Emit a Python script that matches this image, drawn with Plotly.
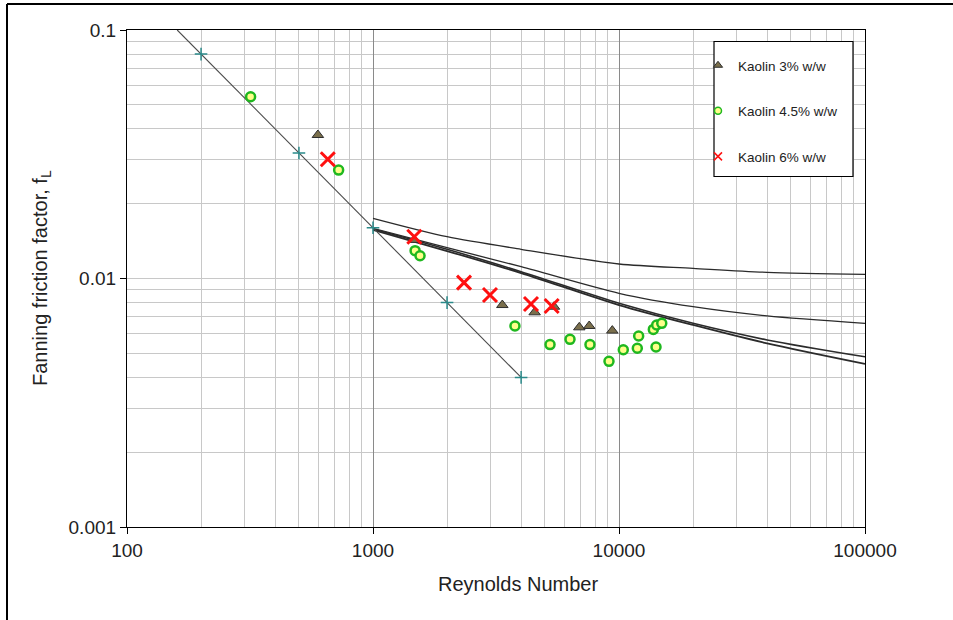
import plotly.graph_objects as go

# ---------------- data ----------------
re_k3 = [597, 1470, 3355, 4540, 5443, 6896, 7568, 9393]
f_k3 = [0.0378, 0.0143, 0.00782, 0.00731, 0.0077, 0.00636, 0.00644, 0.00617]

re_k45 = [318, 725, 1483, 1553, 3776, 5243, 6322, 7621, 9106, 10410, 11870, 12020, 14140, 13790, 14230, 14920]
f_k45 = [0.0539, 0.0273, 0.01294, 0.01235, 0.00644, 0.00542, 0.00569, 0.00542, 0.00464, 0.00517, 0.00524, 0.00587, 0.0053, 0.00624, 0.0065, 0.0066]

re_k6 = [655, 1472, 2344, 2989, 4388, 5325]
f_k6 = [0.0302, 0.01473, 0.00962, 0.00858, 0.0079, 0.00775]

# laminar line
re_lam_line = [160, 200, 500, 1000, 2000, 4000]
f_lam_line = [0.1, 0.08, 0.032, 0.016, 0.008, 0.004]
re_lam_pts = [200, 500, 1000, 2000, 4000]
f_lam_pts = [0.08, 0.032, 0.016, 0.008, 0.004]

# turbulent prediction curves
re_curve = [1000, 2000, 4000, 10000, 20000, 40000, 100000]
f_curve1 = [0.01747, 0.01473, 0.01311, 0.01144, 0.01099, 0.01059, 0.01039]
f_curve2 = [0.01592, 0.0133, 0.01116, 0.00872, 0.0077, 0.00707, 0.0066]
f_curve3 = [0.01582, 0.01311, 0.01065, 0.00795, 0.0066, 0.00566, 0.00484]
f_curve4 = [0.01568, 0.0129, 0.01052, 0.00782, 0.0065, 0.00548, 0.00453]

series_names = ["Kaolin 3% w/w", "Kaolin 4.5% w/w", "Kaolin 6% w/w"]

x_major = [100, 1000, 10000, 100000]
x_major_text = ["100", "1000", "10000", "100000"]
y_major = [0.001, 0.01, 0.1]
y_major_text = ["0.001", "0.01", "0.1"]
x_minor = [m * d for d in (100, 1000, 10000) for m in range(2, 10)]
y_minor = [m * d for d in (0.001, 0.01) for m in range(2, 10)]

# ---------------- styles ----------------
tri_marker = dict(symbol="triangle-up", color="#7a6f4c", line=dict(color="#2e2e2e", width=1))
circ_fill, circ_line = "#ffff8a", "#1fb81f"
x_color = "#ff1010"

# ---------------- figure ----------------
fig = go.Figure()

for fc, w in ((f_curve1, 1.3), (f_curve2, 1.3), (f_curve3, 1.6), (f_curve4, 1.8)):
    fig.add_trace(go.Scatter(x=re_curve, y=fc, mode="lines",
                             line=dict(color="#2b2b2b", width=w, shape="spline", smoothing=0.8),
                             showlegend=False, hoverinfo="skip"))

fig.add_trace(go.Scatter(x=re_lam_line, y=f_lam_line, mode="lines",
                         line=dict(color="#4a4a4a", width=1.1), showlegend=False))
fig.add_trace(go.Scatter(x=re_lam_pts, y=f_lam_pts, mode="markers",
                         marker=dict(symbol="cross-thin", size=9, line=dict(color="#2a8a8a", width=1.5)),
                         showlegend=False))

fig.add_trace(go.Scatter(x=re_k3, y=f_k3, mode="markers", showlegend=False,
                         marker=dict(size=10, **tri_marker)))
fig.add_trace(go.Scatter(x=re_k45, y=f_k45, mode="markers", showlegend=False,
                         marker=dict(symbol="circle", size=9, color=circ_fill,
                                     line=dict(color=circ_line, width=2.5))))
fig.add_trace(go.Scatter(x=re_k6, y=f_k6, mode="markers", showlegend=False,
                         marker=dict(symbol="x-thin", size=14, line=dict(color=x_color, width=3))))

# legend-only entries with small symbols, as in the reference legend
fig.add_trace(go.Scatter(x=[None], y=[None], mode="markers", name=series_names[0], legendgroup="a",
                         marker=dict(size=8, **tri_marker)))
fig.add_trace(go.Scatter(x=[None], y=[None], mode="markers", name=series_names[1], legendgroup="b",
                         marker=dict(symbol="circle", size=7, color=circ_fill,
                                     line=dict(color=circ_line, width=1.5))))
fig.add_trace(go.Scatter(x=[None], y=[None], mode="markers", name=series_names[2], legendgroup="c",
                         marker=dict(symbol="x-thin", size=8, line=dict(color=x_color, width=1.5))))

axis_font = dict(family="Liberation Sans, Arial", size=19, color="#222222")

fig.update_xaxes(type="log", range=[2, 5], tickmode="array", tickvals=x_major, ticktext=x_major_text,
                 showgrid=True, gridcolor="#8a8a8a", gridwidth=1,
                 minor=dict(tickmode="array", tickvals=x_minor, showgrid=True, gridcolor="#c8c8c8", gridwidth=1, ticks=""),
                 ticks="outside", ticklen=6, tickcolor="black", showline=True, linecolor="black",
                 linewidth=1.2, mirror=True, tickfont=axis_font, zeroline=False)
fig.update_yaxes(type="log", range=[-3, -1], tickmode="array", tickvals=y_major, ticktext=y_major_text,
                 showgrid=True, gridcolor="#c8c8c8", gridwidth=1,
                 minor=dict(tickmode="array", tickvals=y_minor, showgrid=True, gridcolor="#c8c8c8", gridwidth=1, ticks=""),
                 ticks="outside", ticklen=6, tickcolor="black", showline=True, linecolor="black",
                 linewidth=1.2, mirror=True, tickfont=axis_font, zeroline=False)

L, R, T, B = 127, 88, 30, 93
W, H = 953, 620
pw, ph = W - L - R, H - T - B


def px(x):
    return (x - L) / pw


def py(y):
    return (H - B - y) / ph


shapes = [
    # outer frame (top and left edges)
    dict(type="line", xref="paper", yref="paper", x0=px(7), x1=px(953), y0=py(4), y1=py(4),
         line=dict(color="black", width=2)),
    dict(type="line", xref="paper", yref="paper", x0=px(7), x1=px(7), y0=py(4), y1=py(620),
         line=dict(color="black", width=2)),
    # legend box
    dict(type="rect", xref="paper", yref="paper", x0=px(714), x1=px(853), y0=py(176.5), y1=py(41.5),
         line=dict(color="black", width=1.2), fillcolor="white", layer="above"),
]

title_font = dict(family="Liberation Sans, Arial", size=20, color="#222222")
annotations = [
    dict(text="Reynolds Number", xref="paper", yref="paper", x=px(518), y=py(584),
         showarrow=False, xanchor="center", yanchor="middle", font=title_font),
    dict(text="Fanning friction factor, f<sub>L</sub>", xref="paper", yref="paper", x=px(41), y=py(278),
         showarrow=False, xanchor="center", yanchor="middle", textangle=-90, font=title_font),
]

fig.update_layout(
    width=W, height=H,
    margin=dict(l=L, r=R, t=T, b=B, pad=0),
    paper_bgcolor="white", plot_bgcolor="white",
    shapes=shapes, annotations=annotations,
    showlegend=True,
    legend=dict(x=px(698), y=py(50), xanchor="left", yanchor="top",
                bgcolor="rgba(0,0,0,0)", borderwidth=0,
                traceorder="grouped", tracegroupgap=25,
                font=dict(family="Liberation Sans, Arial", size=13.5, color="#222222"),
                itemsizing="trace"),
)

fig.write_html("out.html", config={"displayModeBar": False},
               post_script="document.body.style.margin='0px';")
